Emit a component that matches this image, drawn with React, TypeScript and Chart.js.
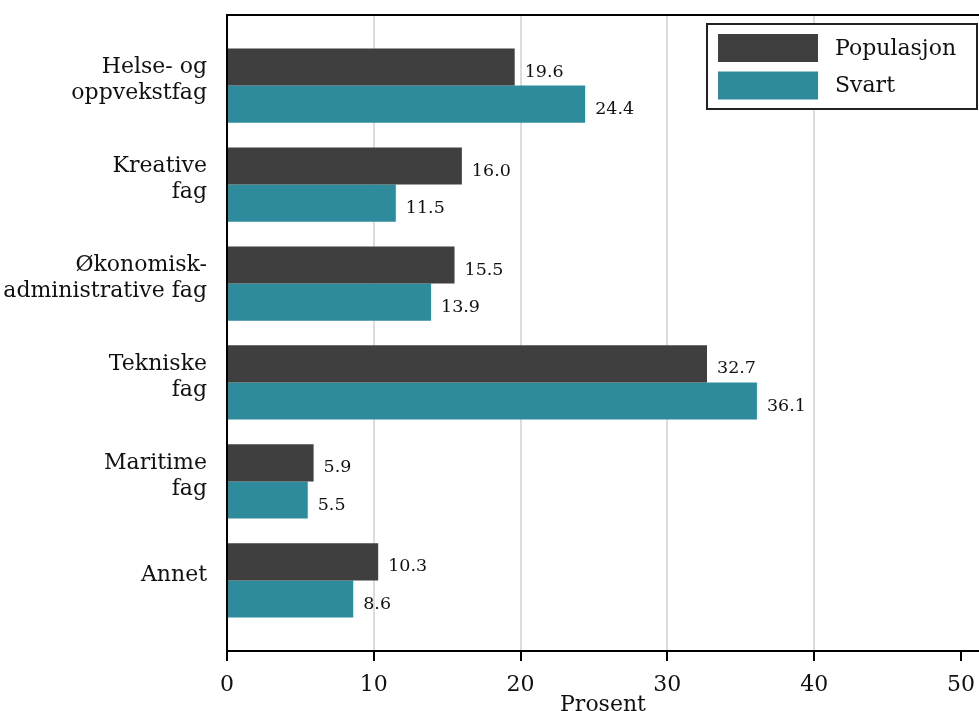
import React, { useEffect, useRef } from 'react';
import { Chart, registerables } from 'chart.js';

Chart.register(...registerables);

// ---- data ----
const categories: string[][] = [
  ['Helse- og', 'oppvekstfag'],
  ['Kreative', 'fag'],
  ['Økonomisk-', 'administrative fag'],
  ['Tekniske', 'fag'],
  ['Maritime', 'fag'],
  ['Annet'],
];
const seriesNames = ['Populasjon', 'Svart'];
const populasjon = [19.6, 16.0, 15.5, 32.7, 5.9, 10.3];
const svart = [24.4, 11.5, 13.9, 36.1, 5.5, 8.6];
const xTicks = [0, 10, 20, 30, 40, 50];
const xTitle = 'Prosent';

const seriesColors = ['#3f3f3f', '#2e8b9b'];
const FONT = '"DejaVu Serif", serif';

const valueLabels = {
  id: 'valueLabels',
  afterDatasetsDraw(chart: any) {
    const { ctx } = chart;
    ctx.save();
    ctx.font = `17.5px ${FONT}`;
    ctx.fillStyle = '#111';
    ctx.textAlign = 'left';
    ctx.textBaseline = 'middle';
    chart.data.datasets.forEach((ds: any, di: number) => {
      const meta = chart.getDatasetMeta(di);
      meta.data.forEach((el: any, i: number) => {
        const v = ds.data[i].x;
        ctx.fillText(Number(v).toFixed(1), el.x + 10, el.y + 5);
      });
    });
    ctx.restore();
  },
};

const frameAndLegend = {
  id: 'frameAndLegend',
  afterDraw(chart: any) {
    const { ctx, chartArea } = chart;
    ctx.save();
    // top frame line
    ctx.strokeStyle = '#000';
    ctx.lineWidth = 2;
    ctx.beginPath();
    ctx.moveTo(chartArea.left, chartArea.top);
    ctx.lineTo(chartArea.right, chartArea.top);
    ctx.stroke();

    // boxed legend
    const w = 270;
    const h = 85;
    const right = chartArea.right - 2;
    const left = right - w;
    const top = chartArea.top + 9;
    ctx.fillStyle = '#fff';
    ctx.fillRect(left, top, w, h);
    ctx.strokeStyle = '#222';
    ctx.lineWidth = 2;
    ctx.strokeRect(left, top, w, h);
    ctx.font = `22px ${FONT}`;
    ctx.textAlign = 'left';
    ctx.textBaseline = 'middle';
    chart.data.datasets.forEach((ds: any, i: number) => {
      const y = top + 10 + i * 37.5;
      ctx.fillStyle = ds.backgroundColor;
      ctx.fillRect(left + 11, y, 100, 28);
      ctx.fillStyle = '#111';
      ctx.fillText(ds.label, left + 128, y + 15);
    });
    ctx.restore();
  },
};

export default function App() {
  const ref = useRef<HTMLCanvasElement | null>(null);

  useEffect(() => {
    if (!ref.current) return;
    Chart.defaults.font.family = FONT;
    const series = [populasjon, svart];
    const chart = new Chart(ref.current, {
      type: 'bar',
      data: {
        datasets: series.map((vals, si) => ({
          label: seriesNames[si],
          data: vals.map((v, i) => ({ x: v, y: i })),
          backgroundColor: seriesColors[si],
          borderWidth: 0,
          categoryPercentage: 0.75,
          barPercentage: 1,
        })),
      },
      options: {
        indexAxis: 'y',
        responsive: false,
        animation: false,
        layout: { padding: { top: 15, left: 0, right: 0, bottom: 0 } },
        plugins: {
          legend: { display: false },
          tooltip: { enabled: false },
        },
        scales: {
          x: {
            type: 'linear',
            position: 'bottom',
            min: 0,
            max: 51.23,
            offset: false,
            afterFit: (s: any) => {
              s.height = 60;
              s.paddingLeft = 0;
              s.paddingRight = 0;
            },
            ticks: {
              stepSize: 10,
              includeBounds: false,
              padding: 11,
              color: '#111',
              font: { size: 22, family: FONT },
              maxRotation: 0,
              autoSkip: false,
              callback: (v: any) => (xTicks.includes(Number(v)) ? String(v) : ''),
            },
            grid: {
              color: (c: any) =>
                c.tick && (c.tick.value <= 0 || c.tick.value >= 50) ? 'rgba(0,0,0,0)' : '#dcdcdc',
              lineWidth: 2,
              tickColor: '#000',
              tickLength: 10,
              tickWidth: 2,
            },
            border: { display: true, color: '#000', width: 2 },
            title: {
              display: true,
              text: xTitle,
              color: '#111',
              font: { size: 22, family: FONT },
              padding: { top: 0, bottom: -7 },
            },
          },
          y: {
            type: 'linear',
            reverse: true,
            offset: false,
            min: -0.713,
            max: 5.713,
            afterFit: (s: any) => {
              s.width = 227;
              s.paddingTop = 0;
              s.paddingBottom = 0;
            },
            ticks: {
              stepSize: 1,
              includeBounds: false,
              padding: 12,
              labelOffset: -5,
              color: '#111',
              font: { size: 22, family: FONT, lineHeight: 1.2 },
              autoSkip: false,
              callback: (v: any) => {
                const n = Number(v);
                return Number.isInteger(n) && categories[n] ? categories[n] : '';
              },
            },
            grid: { display: false, offset: false },
            border: { display: true, color: '#000', width: 2 },
          },
        },
      } as any,
      plugins: [valueLabels, frameAndLegend],
    });
    return () => chart.destroy();
  }, []);

  return (
    <div style={{ position: 'absolute', left: 0, top: 0, width: 979, height: 711, background: '#fff' }}>
      <canvas ref={ref} width={979} height={711} />
    </div>
  );
}
